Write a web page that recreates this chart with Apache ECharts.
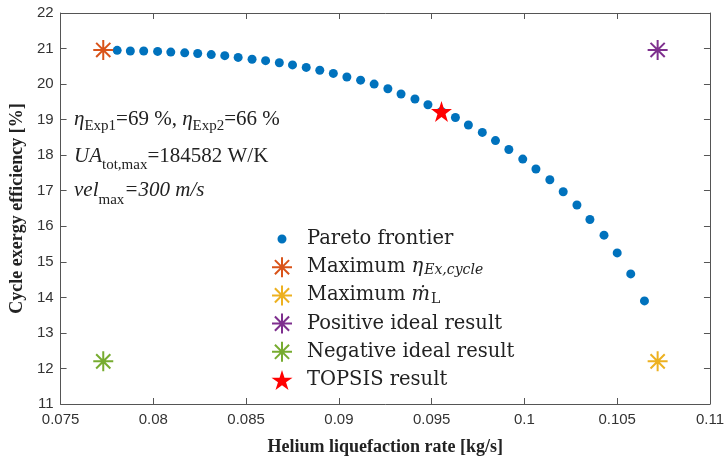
<!DOCTYPE html>
<html>
<head>
<meta charset="utf-8">
<script src="https://cdn.jsdelivr.net/npm/echarts@6/dist/echarts.min.js"></script>
<style>html,body{margin:0;padding:0;background:#fff}#c{width:727px;height:461px}</style>
</head>
<body>
<div id="c"></div>
<script>
// Pareto frontier points (the first point lies under the "Maximum eta" marker)
var paretoX = [0.07805,0.07876,0.07948,0.08023,0.08094,0.08169,0.08239,0.08312,0.08385,0.08457,0.08532,0.08605,0.08679,0.08750,0.08824,0.08897,0.08970,0.09043,0.09117,0.09190,0.09264,0.09335,0.09410,0.09480,0.09553,0.09628,0.09698,0.09773,0.09844,0.09916,0.09991,0.10062,0.10137,0.10209,0.10283,0.10353,0.10429,0.10500,0.10573,0.10647];
var paretoY = [20.95,20.93,20.93,20.92,20.90,20.88,20.86,20.83,20.80,20.75,20.70,20.66,20.60,20.54,20.47,20.39,20.30,20.20,20.11,20.00,19.87,19.72,19.58,19.42,19.23,19.06,18.85,18.64,18.41,18.16,17.89,17.61,17.31,16.97,16.60,16.19,15.75,15.25,14.66,13.90];
// special points [x, y]
var maxEta = [0.0773, 20.96];
var maxMdot = [0.10718, 12.2];
var posIdeal = [0.10718, 20.96];
var negIdeal = [0.0773, 12.2];
var topsis = [0.09553, 19.23];
// axis ticks
var xTicks = {min: 0.075, max: 0.11, interval: 0.005};
var yTicks = {min: 11, max: 22, interval: 1};
var names = ['Pareto frontier','Maximum eta','Maximum mdot','Positive ideal result','Negative ideal result','TOPSIS result'];

var asterisk = 'path://M0,10L20,10M10,0L10,20M2.9,2.9L17.1,17.1M17.1,2.9L2.9,17.1';
var star = 'path://M10,0L12.35,7.24L19.97,7.24L13.81,11.71L16.16,18.95L10,14.47L3.84,18.95L6.19,11.71L0.03,7.24L7.65,7.24Z';
var dotIcon = 'path://M0,0M20,20M10,5.5A4.5,4.5 0 1,1 9.99,5.5Z';

var serif = '"Liberation Serif", "Times New Roman", serif';
var lserif = '"DejaVu Serif", serif';
var sans = '"Liberation Sans", Arial, sans-serif';

var chart = echarts.init(document.getElementById('c'), null, {renderer: 'canvas'});

function pairs(xs, ys){ return xs.map(function(x,i){ return [x, ys[i]]; }); }
function astSeries(name, pt, color){
  return {
    name: name, type: 'scatter', data: [pt], symbol: asterisk, symbolSize: 20, z: 5,
    itemStyle: {color: 'rgba(0,0,0,0)', borderColor: color, borderWidth: 2, opacity: 1},
    emphasis: {disabled: true}
  };
}

var legendLabels = {
  'Pareto frontier': '{n|Pareto frontier}',
  'Maximum eta': '{n|Maximum }{it|η}{sub|Ex,cycle}',
  'Maximum mdot': '{n|Maximum }{it|ṁ}{subr|L}',
  'Positive ideal result': '{n|Positive ideal result}',
  'Negative ideal result': '{n|Negative ideal result}',
  'TOPSIS result': '{n|TOPSIS result}'
};

var axisLineStyle = {color: '#555', width: 1};
var option = {
  animation: false,
  backgroundColor: '#fff',
  grid: {left: 55, right: 14, top: 13, bottom: 53},
  xAxis: [{
    type: 'value', min: xTicks.min, max: xTicks.max, interval: xTicks.interval,
    name: 'Helium liquefaction rate [kg/s]', nameLocation: 'middle', nameGap: 34,
    nameTextStyle: {fontFamily: serif, fontWeight: 'bold', fontSize: 18, color: '#222'},
    axisLine: {show: true, lineStyle: axisLineStyle},
    axisTick: {show: true, inside: true, length: 6, lineStyle: axisLineStyle},
    axisLabel: {fontFamily: sans, fontSize: 15, color: '#333', margin: 8,
      formatter: function(v){ return String(parseFloat(v.toFixed(4))); }},
    splitLine: {show: false}
  },{
    type: 'value', position: 'top', min: xTicks.min, max: xTicks.max, interval: xTicks.interval,
    axisLine: {show: true, lineStyle: axisLineStyle},
    axisTick: {show: true, inside: true, length: 6, lineStyle: axisLineStyle},
    axisLabel: {show: false}, splitLine: {show: false}
  }],
  yAxis: [{
    type: 'value', min: yTicks.min, max: yTicks.max, interval: yTicks.interval,
    name: 'Cycle exergy efficiency [%]', nameLocation: 'middle', nameGap: 30, nameRotate: 90,
    nameTextStyle: {fontFamily: serif, fontWeight: 'bold', fontSize: 18, color: '#222'},
    axisLine: {show: true, lineStyle: axisLineStyle},
    axisTick: {show: true, inside: true, length: 6, lineStyle: axisLineStyle},
    axisLabel: {fontFamily: sans, fontSize: 15, color: '#333', margin: 7},
    splitLine: {show: false}
  },{
    type: 'value', position: 'right', min: yTicks.min, max: yTicks.max, interval: yTicks.interval,
    axisLine: {show: true, lineStyle: axisLineStyle},
    axisTick: {show: true, inside: true, length: 6, lineStyle: axisLineStyle},
    axisLabel: {show: false}, splitLine: {show: false}
  }],
  legend: {
    orient: 'vertical', left: 266, top: 223, itemGap: 6.2, itemWidth: 22, itemHeight: 20,
    selectedMode: false,
    data: [
      {name: names[0], icon: dotIcon, itemStyle: {color: '#0072BD', borderWidth: 0}},
      {name: names[1]}, {name: names[2]}, {name: names[3]}, {name: names[4]},
      {name: names[5]}
    ],
    formatter: function(n){ return legendLabels[n]; },
    textStyle: {
      fontFamily: lserif, fontSize: 19.5, color: '#222', padding: [0,0,0,9], lineHeight: 22,
      rich: {
        n: {fontFamily: lserif, fontSize: 19.5, color: '#222', lineHeight: 22},
        it: {fontFamily: lserif, fontStyle: 'italic', fontSize: 19.5, color: '#222', lineHeight: 22},
        sub: {fontFamily: lserif, fontStyle: 'italic', fontSize: 14, color: '#222', lineHeight: 22, padding: [7,0,0,1]},
        subr: {fontFamily: lserif, fontSize: 14, color: '#222', lineHeight: 22, padding: [7,0,0,1]}
      }
    }
  },
  graphic: [{
    type: 'group', left: 74, top: 109, silent: true,
    children: [
      {type: 'text', x: 0, y: 0, style: {
        text: '{it|η}{sub|Exp1}{n|=69 %, }{it|η}{sub|Exp2}{n|=66 %}',
        rich: {
          n: {fontFamily: serif, fontSize: 21, fill: '#222'},
          it: {fontFamily: serif, fontStyle: 'italic', fontSize: 21, fill: '#222'},
          sub: {fontFamily: serif, fontSize: 15, fill: '#222', padding: [14,0,0,0]}
        }}},
      {type: 'text', x: 0, y: 35, style: {
        text: '{it|UA}{sub|tot,max}{n|=184582 W/K}',
        rich: {
          n: {fontFamily: serif, fontSize: 21, fill: '#222'},
          it: {fontFamily: serif, fontStyle: 'italic', fontSize: 21, fill: '#222'},
          sub: {fontFamily: serif, fontSize: 15, fill: '#222', padding: [18,0,0,0]}
        }}},
      {type: 'text', x: 0, y: 68, style: {
        text: '{it|vel}{sub|max}{it|=300 m/s}',
        rich: {
          it: {fontFamily: serif, fontStyle: 'italic', fontSize: 21, fill: '#222'},
          sub: {fontFamily: serif, fontSize: 15, fill: '#222', padding: [20,0,0,0]}
        }}}
    ]
  }],
  series: [
    {name: names[0], type: 'scatter', data: pairs(paretoX, paretoY), symbol: 'circle', symbolSize: 9,
     itemStyle: {color: '#0072BD', opacity: 1}, z: 2, emphasis: {disabled: true}},
    astSeries(names[1], maxEta, '#D95319'),
    astSeries(names[2], maxMdot, '#EDB120'),
    astSeries(names[3], posIdeal, '#7E2F8E'),
    astSeries(names[4], negIdeal, '#77AC30'),
    {name: names[5], type: 'scatter', data: [topsis], symbol: star, symbolSize: 21, z: 6,
     itemStyle: {color: '#FF0000', opacity: 1}, emphasis: {disabled: true}}
  ]
};
chart.setOption(option);
</script>
</body>
</html>
